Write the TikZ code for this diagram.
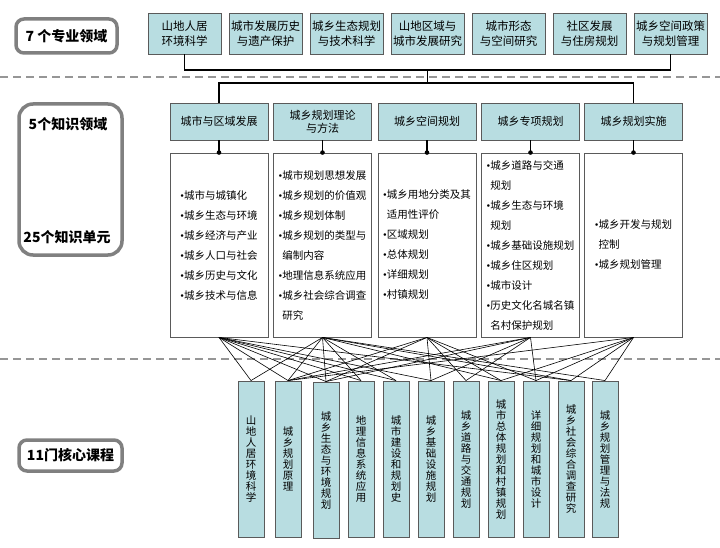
\documentclass[tikz,border=0pt]{standalone}
\usepackage{fontspec}
\setmainfont{Noto Sans CJK SC}
\newfontfamily\latf{Liberation Serif}
\newcommand{\bul}{{\latf •}}
\newcommand{\ind}{\phantom{\bul}}
\definecolor{boxfill}{RGB}{184,221,225}
\definecolor{boxline}{RGB}{90,90,90}
\definecolor{lblline}{RGB}{128,128,128}
\definecolor{dashc}{RGB}{150,150,150}
\begin{document}
\begin{tikzpicture}[x=1pt,y=-1pt,
  topbox/.style={draw=boxline, fill=boxfill, line width=0.9pt, minimum width=73pt, minimum height=41pt, inner sep=0pt, align=center, font=\fontsize{11.5}{14.5}\selectfont},
  dombox/.style={draw=boxline, fill=boxfill, line width=0.9pt, minimum width=98pt, minimum height=37pt, inner sep=0pt, align=center, font=\fontsize{11}{13}\selectfont},
  unitbox/.style={draw=boxline, fill=white, line width=0.9pt, minimum width=98pt, minimum height=184pt, inner sep=0pt, align=left, font=\fontsize{10.5}{20}\selectfont},
  coursebox/.style={draw=boxline, fill=boxfill, line width=0.9pt, minimum width=26pt, minimum height=156pt, inner sep=0pt, align=center, font=\fontsize{10.5}{11}\selectfont},
  lblbox/.style={draw=lblline, line width=3.5pt, fill=white, inner sep=0pt},
  lbltext/.style={font=\bfseries\fontsize{14}{16}\selectfont, inner sep=0pt},
  sepline/.style={dashc, line width=2pt, dash pattern=on 8pt off 5pt},
  tree/.style={black, line width=1.3pt},
  link/.style={black, line width=0.6pt}
]
\useasboundingbox (0,0) rectangle (720,548);
\fill[white] (0,0) rectangle (720,548);

% separators
\draw[sepline] (0,77) -- (720,77);
\draw[sepline] (0,359) -- (720,359);

% left labels
\node[lblbox, rounded corners=8pt, minimum width=101pt, minimum height=34pt] (L1) at (66.5,36) {};
\node[lbltext] (L1t) at (L1.center) {7 个专业领域};
\node[lblbox, rounded corners=14pt, minimum width=103pt, minimum height=151pt] (L2) at (70.5,179.5) {};
\node[lbltext] (L2a) at (68,124) {5个知识领域};
\node[lbltext] (L2b) at (67,237) {25个知识单元};
\node[lblbox, rounded corners=8pt, minimum width=103pt, minimum height=31pt] (L3) at (70.5,455.5) {};
\node[lbltext] (L3t) at (L3.center) {11门核心课程};

% 7 professional fields
\node[topbox] (t1) at (184.5,33.5) {山地人居\\环境科学};
\node[topbox] (t2) at (265.5,33.5) {城市发展历史\\与遗产保护};
\node[topbox] (t3) at (346.5,33.5) {城乡生态规划\\与技术科学};
\node[topbox] (t4) at (427.5,33.5) {山地区域与\\城市发展研究};
\node[topbox] (t5) at (508.5,33.5) {城市形态\\与空间研究};
\node[topbox] (t6) at (589.5,33.5) {社区发展\\与住房规划};
\node[topbox] (t7) at (670.5,33.5) {城乡空间政策\\与规划管理};

% 5 knowledge domains
\node[dombox] (d1) at (219,121.5) {城市与区域发展};
\node[dombox] (d2) at (322.5,121.5) {城乡规划理论\\与方法};
\node[dombox] (d3) at (427,121.5) {城乡空间规划};
\node[dombox] (d4) at (530.5,121.5) {城乡专项规划};
\node[dombox] (d5) at (633.5,121.5) {城乡规划实施};

% tree
\coordinate (yA) at (0,70);
\coordinate (yB) at (0,83);
\draw[tree] (t1.south) -- (t1.south |- yA) -- (t7.south |- yA) -- (t7.south);
\draw[tree] (t4.south |- yA) -- (t4.south |- yB);
\draw[tree] (d1.north) -- (d1.north |- yB) -- (d5.north |- yB) -- (d5.north);

% 25 knowledge units
\node[unitbox] (u1) at (219,245) {\bul{}城市与城镇化\\\bul{}城乡生态与环境\\\bul{}城乡经济与产业\\\bul{}城乡人口与社会\\\bul{}城乡历史与文化\\\bul{}城乡技术与信息};
\node[unitbox] (u2) at (322.5,245) {\bul{}城市规划思想发展\\\bul{}城乡规划的价值观\\\bul{}城乡规划体制\\\bul{}城乡规划的类型与\\\ind{}编制内容\\\bul{}地理信息系统应用\\\bul{}城乡社会综合调查\\\ind{}研究};
\node[unitbox] (u3) at (427,245) {\bul{}城乡用地分类及其\\\ind{}适用性评价\\\bul{}区域规划\\\bul{}总体规划\\\bul{}详细规划\\\bul{}村镇规划};
\node[unitbox] (u4) at (530.5,245) {\bul{}城乡道路与交通\\\ind{}规划\\\bul{}城乡生态与环境\\\ind{}规划\\\bul{}城乡基础设施规划\\\bul{}城乡住区规划\\\bul{}城市设计\\\bul{}历史文化名城名镇\\\ind{}名村保护规划};
\node[unitbox] (u5) at (633.5,245) {\bul{}城乡开发与规划\\\ind{}控制\\\bul{}城乡规划管理};

\foreach \i in {1,...,5}{
  \draw[tree] (d\i.south) -- (u\i.north);
  \fill (u\i.north) circle (2.3pt);
}

% 11 core courses
\node[coursebox] (c1) at (251,459) {山\\地\\人\\居\\环\\境\\科\\学};
\node[coursebox] (c2) at (288,459) {城\\乡\\规\\划\\原\\理};
\node[coursebox] (c3) at (326,460) {城\\乡\\生\\态\\与\\环\\境\\规\\划};
\node[coursebox] (c4) at (361,459) {地\\理\\信\\息\\系\\统\\应\\用};
\node[coursebox] (c5) at (396,459) {城\\市\\建\\设\\和\\规\\划\\史};
\node[coursebox] (c6) at (431,459) {城\\乡\\基\\础\\设\\施\\规\\划};
\node[coursebox] (c7) at (466,459) {城\\乡\\道\\路\\与\\交\\通\\规\\划};
\node[coursebox] (c8) at (501,459) {城\\市\\总\\体\\规\\划\\和\\村\\镇\\规\\划};
\node[coursebox] (c9) at (536,459) {详\\细\\规\\划\\和\\城\\市\\设\\计};
\node[coursebox] (c10) at (571,459) {城\\乡\\社\\会\\综\\合\\调\\查\\研\\究};
\node[coursebox] (c11) at (605,459) {城\\乡\\规\\划\\管\\理\\与\\法\\规};

% links
\foreach \u/\c in {1/1,1/2,1/3,1/4,1/5,1/6,1/10,
                   2/1,2/2,2/3,2/4,2/5,2/8,2/10,2/11,
                   3/2,3/3,3/6,3/7,3/8,3/9,
                   4/2,4/3,4/6,4/7,4/9,
                   5/2,5/8,5/9,5/10,5/11}{
  \draw[link] (u\u.south) -- (c\c.north);
}
\end{tikzpicture}
\end{document}
